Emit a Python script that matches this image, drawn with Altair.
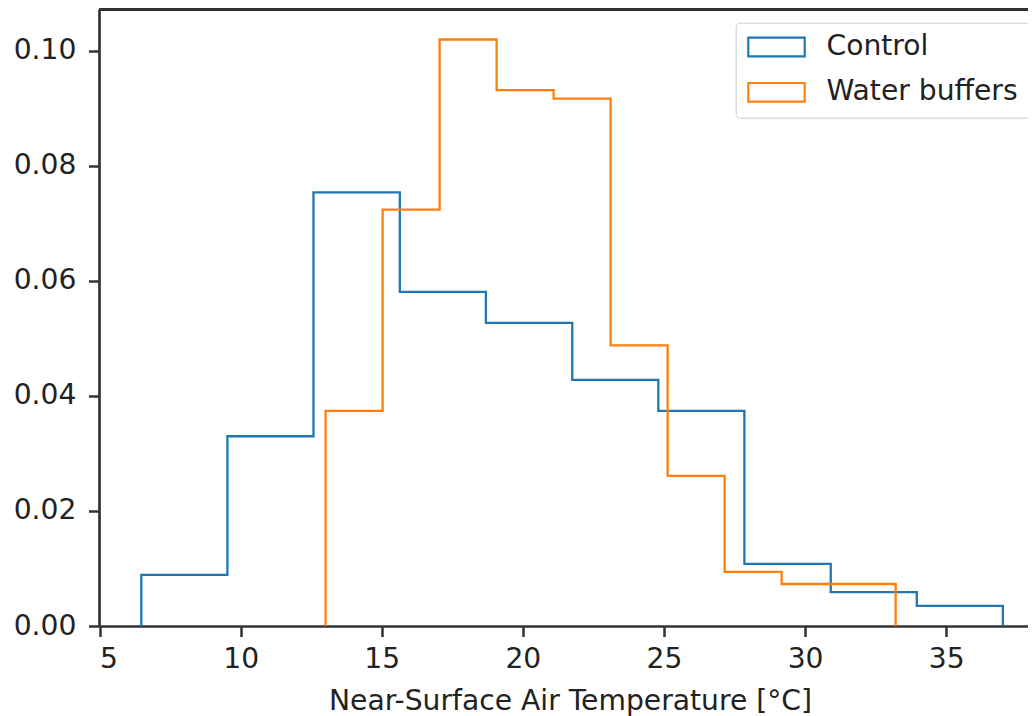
import altair as alt
import pandas as pd

# Histogram bin edges (°C) and densities
control_edges = [6.48, 9.53, 12.58, 15.64, 18.69, 21.75, 24.80, 27.85, 30.91, 33.96, 37.01]
control_density = [0.0089, 0.0330, 0.0754, 0.0581, 0.0527, 0.0428, 0.0374, 0.0108, 0.0059, 0.0035]

water_edges = [13.01, 15.03, 17.05, 19.07, 21.09, 23.11, 25.13, 27.15, 29.17, 31.19, 33.21]
water_density = [0.0374, 0.0724, 0.1020, 0.0932, 0.0917, 0.0488, 0.0261, 0.0094, 0.0073, 0.0073]

series_names = ["Control", "Water buffers"]
series_colors = ["#1f77b4", "#ff7f0e"]

x_ticks = [5, 10, 15, 20, 25, 30, 35]
y_ticks = [0.00, 0.02, 0.04, 0.06, 0.08, 0.10]
x_domain = [4.98, 37.90]
y_domain = [0.0, 0.1073]

FONT = "DejaVu Sans"
FS = 28.2
TXT = "#222222"
SPINE = "#333333"
W, H = 929, 617


def step_path(name, edges, dens):
    rows = [(edges[0], 0.0)]
    for i, d in enumerate(dens):
        rows.append((edges[i], d))
        rows.append((edges[i + 1], d))
    rows.append((edges[-1], 0.0))
    return [{"series": name, "temp": x, "density": y, "order": k} for k, (x, y) in enumerate(rows)]


df = pd.DataFrame(
    step_path(series_names[0], control_edges, control_density)
    + step_path(series_names[1], water_edges, water_density)
)

legend = alt.Legend(
    title=None,
    orient="none",
    legendX=636.7,
    legendY=13.7,
    padding=11.3,
    cornerRadius=4,
    strokeColor="#cccccc",
    fillColor="white",
    symbolType="M-1,-0.33H1V0.33H-1Z",
    symbolSize=3181,
    symbolStrokeWidth=2.2,
    symbolFillColor="white",
    symbolOffset=0,
    labelOffset=20.5,
    clipHeight=26,
    rowPadding=16.3,
    labelFont=FONT,
    labelFontSize=FS,
    labelColor=TXT,
    labelLimit=0,
)

lines = alt.Chart(df).mark_line(strokeWidth=2.3, strokeJoin="miter", clip=True).encode(
    x=alt.X(
        "temp:Q",
        scale=alt.Scale(domain=x_domain, nice=False, zero=False),
        axis=alt.Axis(
            values=x_ticks,
            format="d",
            title="Near-Surface Air Temperature [°C]",
            titleX=471,
            titleY=83,
            titleAlign="center",
            titleBaseline="alphabetic",
            grid=False,
        ),
    ),
    y=alt.Y(
        "density:Q",
        scale=alt.Scale(domain=y_domain, nice=False),
        axis=alt.Axis(values=y_ticks, format=".2f", title=None, grid=False),
    ),
    color=alt.Color(
        "series:N",
        scale=alt.Scale(domain=series_names, range=series_colors),
        legend=legend,
    ),
    order="order:Q",
    detail="series:N",
)

top_spine = alt.Chart(df).mark_rule(color=SPINE, strokeWidth=2.7).encode(
    x=alt.value(0), x2=alt.value(W), y=alt.value(0)
)

chart = (
    alt.layer(lines, top_spine)
    .properties(
        width=W,
        height=H,
        autosize=alt.AutoSizeParams(type="none"),
        padding={"left": 91, "top": 1, "right": 0, "bottom": 90},
    )
    .configure_view(stroke=None)
    .configure_axis(
        domainColor=SPINE,
        domainWidth=2.7,
        tickColor=SPINE,
        tickWidth=2.5,
        tickSize=10.5,
        labelFont=FONT,
        labelFontSize=FS,
        labelColor=TXT,
        titleFont=FONT,
        titleFontSize=FS,
        titleFontWeight="normal",
        titleColor=TXT,
    )
    .configure_axisX(labelPadding=9)
    .configure_axisY(labelPadding=12.6)
)

chart.save("out.html", embed_options={"renderer": "svg", "actions": False})
